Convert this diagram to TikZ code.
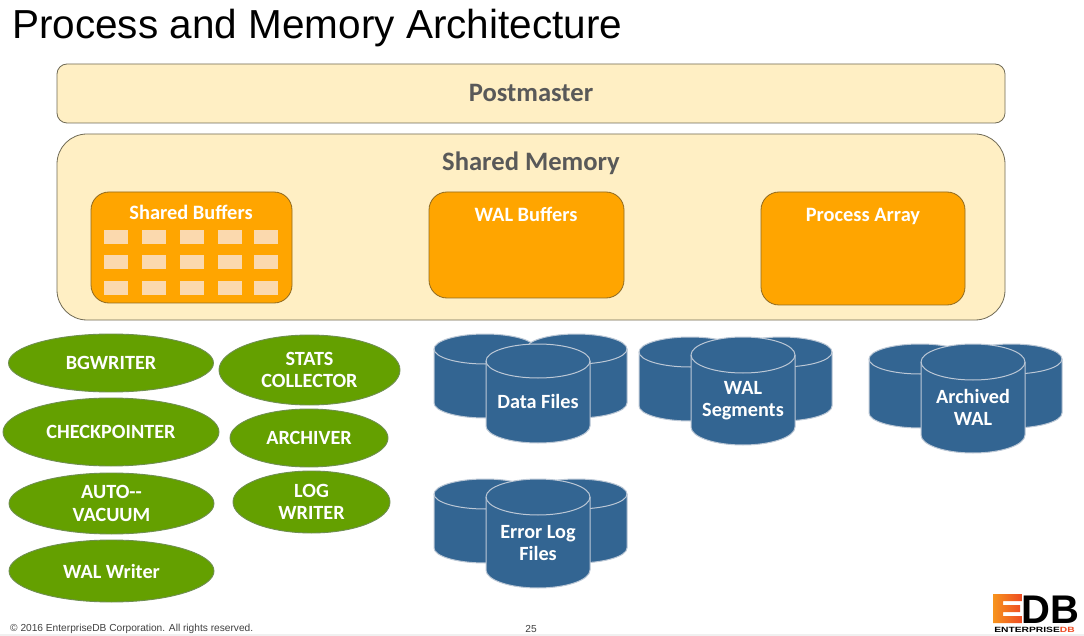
\documentclass[tikz,border=0pt]{standalone}
\usepackage{fontspec}
\usetikzlibrary{shapes.geometric}
\setmainfont{Carlito}
\newfontfamily\arial{Liberation Sans}
\definecolor{pale}{HTML}{FFEFC4}
\definecolor{edge}{HTML}{6F6A55}
\definecolor{amber}{HTML}{FFA500}
\definecolor{amberedge}{HTML}{8F6A20}
\definecolor{cell}{HTML}{FBD9AE}
\definecolor{leaf}{HTML}{64A000}
\definecolor{leafedge}{HTML}{6F8F50}
\definecolor{drum}{HTML}{336592}
\definecolor{drumedge}{HTML}{BCC8D6}
\definecolor{headtext}{HTML}{595959}
\definecolor{logoorange}{HTML}{F7941D}
\definecolor{logored}{HTML}{EE4B23}
\tikzset{
  x=1pt,y=-1pt,
  panel/.style={draw=edge,line width=0.8pt,fill=pale},
  orangebox/.style={draw=amberedge,line width=0.8pt,fill=amber},
  bufcell/.style={fill=cell,draw=none},
  oval/.style={ellipse,draw=leafedge,line width=0.9pt,fill=leaf,inner sep=0pt,align=center,text=white,
     font=\fontsize{20.2}{22.2}\selectfont\bfseries},
  drumshape/.style={draw=drumedge,line width=1pt,fill=drum},
  headlabel/.style={font=\fontsize{26.6}{28}\selectfont\bfseries,text=headtext,inner sep=0pt},
  boxlabel/.style={font=\fontsize{20.4}{22}\selectfont\bfseries,text=white,inner sep=0pt,align=center},
  whitelabel/.style={font=\fontsize{20.2}{22.2}\selectfont\bfseries,text=white,inner sep=0pt,align=center},
  foot/.style={font=\arial\fontsize{10.17}{12}\selectfont,text=black!75,inner sep=0pt},
}
% \drumone{left}{right}{top}{bottom}{ry}
\newcommand{\drumone}[5]{%
  \draw[drumshape] (#1,#3+#5) arc[start angle=180,end angle=0,x radius={(#2-#1)/2*1pt},y radius=#5pt]
    -- (#2,#4-#5) arc[start angle=0,end angle=-180,x radius={(#2-#1)/2*1pt},y radius=#5pt] -- cycle;
  \draw[drumshape,fill=none] (#1,#3+#5) arc[start angle=180,end angle=360,x radius={(#2-#1)/2*1pt},y radius=#5pt];
}
% \drumgroup{left}{backtop}{fronttop}{frontheight}{frontry}
\newcommand{\drumgroup}[5]{%
  \pgfmathsetmacro{\bb}{#2+84}\pgfmathsetmacro{\fb}{#3+#4}%
  \pgfmathsetmacro{\lb}{#1+102}\pgfmathsetmacro{\ra}{#1+92}\pgfmathsetmacro{\rb}{#1+193}%
  \pgfmathsetmacro{\fa}{#1+52}\pgfmathsetmacro{\fc}{#1+156}%
  \drumone{#1}{\lb}{#2}{\bb}{15}
  \drumone{\ra}{\rb}{#2}{\bb}{15}
  \drumone{\fa}{\fc}{#3}{\fb}{#5}
}
\begin{document}
\begin{tikzpicture}
\useasboundingbox (0,0) rectangle (1084,636);
\fill[white] (0,0) rectangle (1084,636);
\fill[black!6] (0,634) rectangle (1084,636);

\node[anchor=west,inner sep=0pt,font=\arial\fontsize{40.5}{44}\selectfont] (title) at (12,28) {Process and Memory Architecture};

\draw[panel,rounded corners=10pt] (57,64) rectangle (1005,123);
\node[headlabel] (postmaster) at (531,93) {Postmaster};

\draw[panel,rounded corners=30pt] (57,134) rectangle (1005,320);
\node[headlabel] (sharedmem) at (531,163) {Shared Memory};

\draw[orangebox,rounded corners=18pt] (91,192) rectangle (292,303);
\node[boxlabel] (sbuf) at (191,212.5) {Shared Buffers};
\foreach \cx in {104,142,180,218,254}
  \foreach \cy in {230,255,281}
    \fill[bufcell] (\cx,\cy) rectangle +(24,14.5);

\draw[orangebox,rounded corners=18pt] (429,192) rectangle (624,298);
\node[boxlabel] (walbuf) at (526,214) {WAL Buffers};
\draw[orangebox,rounded corners=18pt] (761,192) rectangle (965,305);
\node[boxlabel] (procarr) at (863,216.5) {Process Array};

\node[oval,minimum width=205pt,minimum height=58pt] (bgw) at (111,363) {BGWRITER};
\node[oval,minimum width=181pt,minimum height=70pt] (stats) at (309.5,370) {STATS\\COLLECTOR};
\node[oval,minimum width=216pt,minimum height=68pt] (ckpt) at (111,432) {CHECKPOINTER};
\node[oval,minimum width=158pt,minimum height=58pt] (arch) at (309,438) {ARCHIVER};
\node[oval,minimum width=205pt,minimum height=61pt] (auto) at (111.5,503.5) {AUTO-{}-\\VACUUM};
\node[oval,minimum width=157pt,minimum height=62pt] (logw) at (311.5,502) {LOG\\WRITER};
\node[oval,minimum width=205pt,minimum height=62pt] (walw) at (111.5,571) {WAL Writer};

\drumgroup{434}{334}{344}{99}{17}
\node[whitelabel] (data) at (538,401) {Data Files};
\drumgroup{639}{337}{337}{108}{18}
\node[whitelabel] (walseg) at (743,401) {WAL\\Segments};
\drumgroup{869}{344}{344}{109}{18}
\node[whitelabel] (archwal) at (973,407.5) {Archived\\WAL};
\drumgroup{434}{479}{479}{109}{18}
\node[whitelabel] (errlog) at (538,543) {Error Log\\Files};

\node[foot,anchor=west] (copy) at (10,629) {© 2016 EnterpriseDB Corporation. All rights reserved.};
\node[foot] (page) at (531,629) {25};

% logo
\shade[left color=logoorange,right color=logored]
  (993,594) -- (1022,594) -- (1022,601) -- (1003,601) -- (1003,605) -- (1020,605) -- (1020,612)
  -- (1003,612) -- (1003,616) -- (1022,616) -- (1022,623) -- (993,623) -- cycle;
\node[inner sep=0pt,anchor=base west,text depth=0pt,font=\arial\fontsize{40}{40}\selectfont\bfseries] (logodb) at (1021,623) {DB};
\node[inner sep=0pt,anchor=west,xscale=1.35,font=\arial\fontsize{7.6}{8}\selectfont\bfseries,text height=5.5pt,text depth=0pt] (logotext) at (994,629.5) {ENTERPRISE\textcolor{logored}{DB}};
\end{tikzpicture}
\end{document}
